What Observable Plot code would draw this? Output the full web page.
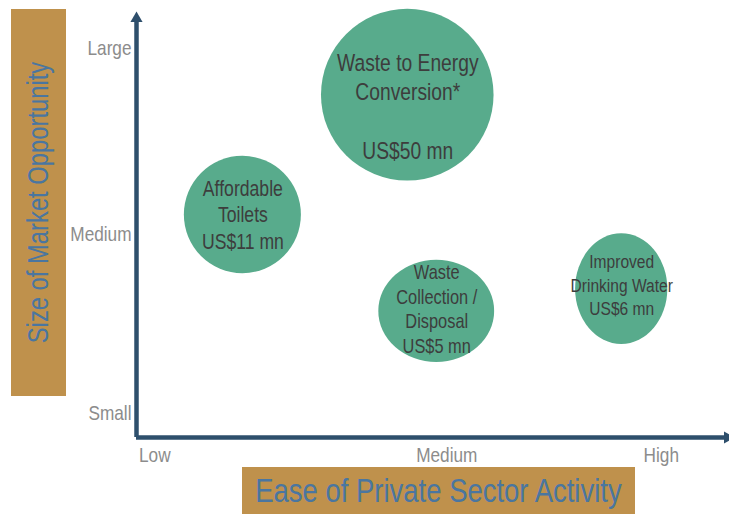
<!DOCTYPE html>
<html><head><meta charset="utf-8">
<script src="https://cdn.jsdelivr.net/npm/d3@7"></script>
<script src="https://cdn.jsdelivr.net/npm/@observablehq/plot@0.6"></script>
<style>
body{margin:0;background:#fff;}
#wrap{position:relative;width:729px;height:514px;overflow:hidden;font-family:"Liberation Sans",Arial,sans-serif;}
#wrap svg{position:absolute;left:0;top:0;z-index:0;}
.box{position:absolute;z-index:1;background:#bf914c;color:#4a76a0;display:flex;align-items:center;justify-content:center;white-space:nowrap;}
#ytitle{left:11px;top:9px;width:55px;height:387px;}
#ytitle span{transform:rotate(-90deg) scaleX(0.82);font-size:29px;display:inline-block;}
#xtitle{left:242px;top:467px;width:393px;height:47px;font-size:33.5px;}
#xtitle span{transform:scaleX(0.82);display:inline-block;}
</style></head>
<body>
<div id="wrap"></div>
<script>
// ---- data ----
const xTickValues = [3.1, 52.5, 88.8];
const xTickLabels = ["Low", "Medium", "High"];
const yTickValues = [5.7, 48.4, 92.8];
const yTickLabels = ["Small", "Medium", "Large"];
const xDomain = [0, 100];
const yDomain = [0, 100];

const bubbleNames = ["Waste to Energy Conversion", "Affordable Toilets", "Waste Collection / Disposal", "Improved Drinking Water"];
const bubbleLabels = ["Waste to Energy\nConversion*\n\u00a0\nUS$50 mn", "Affordable\nToilets\nUS$11 mn", "Waste\nCollection /\nDisposal\nUS$5 mn", "Improved\nDrinking Water\nUS$6 mn"];
const bubbleX = [45.9, 18.0, 50.8, 82.1];   // ease of private sector activity
const bubbleY = [81.7, 53.1, 30.1, 35.4];   // size of market opportunity
const bubbleRx = [14.6, 9.9, 9.8, 7.8];     // half-extent along x (data units)
const bubbleRy = [20.5, 14.0, 12.2, 13.2];  // half-extent along y (data units)
const labelY = [79.2, 53.4, 30.9, 36.6];

// ---- styles ----
const labelFont = {
  "Waste to Energy Conversion": 23.5,
  "Affordable Toilets": 21.5,
  "Waste Collection / Disposal": 20,
  "Improved Drinking Water": 19
};
const FONT = '"Liberation Sans",Arial,sans-serif';
const NARROW = 0.82;
const AXIS = "#2e4f6c";

const data = bubbleNames.map((name, i) => ({
  name, label: bubbleLabels[i], x: bubbleX[i], y: bubbleY[i],
  rx: bubbleRx[i], ry: bubbleRy[i], ly: labelY[i]
}));

const ellipses = (index, scales) => {
  const g = d3.create("svg:g").attr("aria-label", "bubbles");
  g.selectAll("ellipse").data(data).join("ellipse")
    .attr("cx", d => scales.x(d.x))
    .attr("cy", d => scales.y(d.y))
    .attr("rx", d => Math.abs(scales.x(d.x + d.rx) - scales.x(d.x)))
    .attr("ry", d => Math.abs(scales.y(d.y + d.ry) - scales.y(d.y)))
    .attr("fill", "#58ab8c");
  return g.node();
};

const chart = Plot.plot({
  width: 729,
  height: 514,
  marginLeft: 136,
  marginRight: 2,
  marginTop: 18,
  marginBottom: 77,
  style: {fontFamily: FONT, fontSize: "21px", color: "#8c8c8c", background: "transparent"},
  x: {domain: xDomain, ticks: xTickValues, tickFormat: d => xTickLabels[xTickValues.indexOf(d)], tickSize: 0, tickPadding: 10, label: null},
  y: {domain: yDomain, ticks: yTickValues, tickFormat: d => yTickLabels[yTickValues.indexOf(d)], tickSize: 0, tickPadding: 5, label: null},
  marks: [
    ellipses,
    Plot.text(data, {x: "x", y: "ly", text: "label", fontSize: d => labelFont[d.name], lineHeight: 1.24, fill: "#3d3d3d", fontFamily: FONT}),
    Plot.ruleX([xDomain[0]], {y1: yDomain[0], y2: yDomain[1], stroke: AXIS, strokeWidth: 4.5}),
    Plot.ruleY([yDomain[0]], {x1: xDomain[0], x2: xDomain[1], stroke: AXIS, strokeWidth: 4.5}),
    Plot.dot([{x: xDomain[0], y: yDomain[1]}], {x: "x", y: "y", symbol: "triangle", r: 4.5, fill: AXIS, stroke: "none"}),
    Plot.dot([{x: xDomain[1], y: yDomain[0]}], {x: "x", y: "y", symbol: "triangle", r: 4.5, fill: AXIS, stroke: "none", rotate: 90})
  ]
});

// narrow (condensed) lettering: compress every text horizontally about its anchor
chart.querySelectorAll("text").forEach(t => {
  const tr = t.getAttribute("transform") || "";
  t.setAttribute("transform", (tr + ` scale(${NARROW},1)`).trim());
});

const wrap = document.getElementById("wrap");
wrap.appendChild(chart);
const yt = document.createElement("div");
yt.className = "box"; yt.id = "ytitle";
yt.innerHTML = "<span>Size of Market Opportunity</span>";
wrap.appendChild(yt);
const xt = document.createElement("div");
xt.className = "box"; xt.id = "xtitle";
xt.innerHTML = "<span>Ease of Private Sector Activity</span>";
wrap.appendChild(xt);
</script>
</body></html>
